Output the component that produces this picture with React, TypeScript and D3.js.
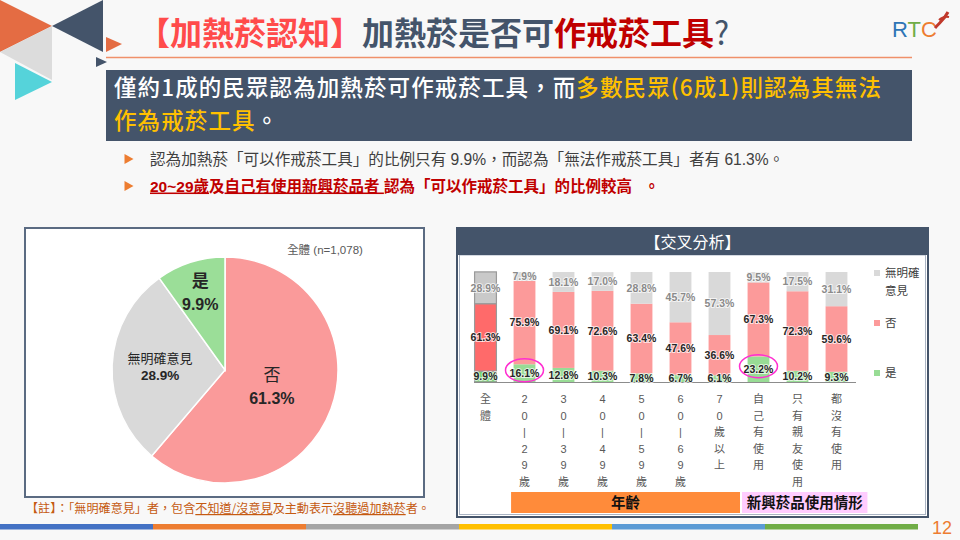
import React from "react";
import * as d3 from "d3";

const CJK = "'Noto Sans CJK TC','Noto Sans CJK SC',sans-serif";
const NUM = "'Liberation Sans','Noto Sans CJK TC',sans-serif";

// ---------- Pie data ----------
const pieLabels = ["否", "無明確意見", "是"];
const pieValues = [61.3, 28.9, 9.9];
const pieColors = ["#fa9a9a", "#d9d9d9", "#9bde98"];
const pieNote = "全體 (n=1,078)";

// ---------- Cross analysis data ----------
const categories = [
  "全體", "20-29歲", "30-39歲", "40-49歲", "50-59歲", "60-69歲",
  "70歲以上", "自己有使用", "只有親友使用", "都沒有使用",
];
const yesValues = [9.9, 16.1, 12.8, 10.3, 7.8, 6.7, 6.1, 23.2, 10.2, 9.3];
const noValues = [61.3, 75.9, 69.1, 72.6, 63.4, 47.6, 36.6, 67.3, 72.3, 59.6];
const unsureValues = [28.9, 7.9, 18.1, 17.0, 28.8, 45.7, 57.3, 9.5, 17.5, 31.1];
const seriesKeys = ["是", "否", "無明確意見"];
const seriesColors = ["#98dc95", "#fc9a9a", "#d9d9d9"];
const totalColors = ["#72d36f", "#ff6a6a", "#c9c9c9"];
const legendKeys = ["無明確意見", "否", "是"];
const legendLines = [["無明確", "意見"], ["否"], ["是"]];
const groupNames = ["年齡", "新興菸品使用情形"];
const groupFrom = [1, 7];
const groupTo = [6, 9];
const highlighted = ["20-29歲", "自己有使用"];

const bottomBarColors = ["#4472c4", "#ed7d31", "#a5a5a5", "#ffc000", "#5b9bd5", "#70ad47"];

export default function App() {
  // pie
  const cx = 225, cy = 370, r = 113;
  const pie = d3.pie<number>().sort(null).value((d) => d)(pieValues);
  const arc = d3.arc<d3.PieArcDatum<number>>().innerRadius(0).outerRadius(r);
  const labelR = [50, 65, 81];

  // bars
  const x = d3.scaleBand<string>().domain(categories).range([466, 856]).paddingInner(0.44).paddingOuter(0.22);
  const y = d3.scaleLinear().domain([0, 100]).range([382, 272]);
  const rows = categories.map((c, i) => ({ cat: c, 是: yesValues[i], 否: noValues[i], 無明確意見: unsureValues[i] }));
  const stacked = d3.stack<any>().keys(seriesKeys)(rows);
  const bw = x.bandwidth();

  const midBetween = (a: number, b: number) => ((x(categories[a]) as number) + bw + (x(categories[b]) as number)) / 2;

  const groupX0 = [
    (x(categories[groupFrom[0]]) as number) - 2.5,
    midBetween(groupTo[0], groupFrom[1]) + 3,
  ];
  const groupX1 = [
    midBetween(groupTo[0], groupFrom[1]) + 1,
    (x(categories[groupTo[1]]) as number) + bw + 20,
  ];
  const groupColors = ["#ff8b3a", "#ffccff"];

  return (
    <svg width={960} height={540} style={{ position: "absolute", left: 0, top: 0 }} fontFamily={CJK}>
      <rect width={960} height={540} fill="#f8f8f8" />

      {/* decoration */}
      <polygon points="0,0 52,26 0,52" fill="#e46c43" />
      <polygon points="0,52 52,26 52,80" fill="#dcdcdc" />
      <polygon points="52,26 103,0 103,52" fill="#44546a" />
      <polygon points="15,63 52,82 15,100" fill="#55d3da" />
      <polygon points="106,37 122,44 106,52" fill="#e46c43" />
      <polygon points="96,57 107,62 96,67" fill="#44546a" />

      {/* title */}
      <text x={138} y={45} fontSize={32} fontWeight={700}>
        <tspan fill="#ff4b4b">【加熱菸認知】</tspan>
        <tspan fill="#44546a">加熱菸是否可</tspan>
        <tspan fill="#c00000">作戒菸工具</tspan>
        <tspan fill="#44546a" fontWeight={400}>?</tspan>
      </text>
      <line x1={106} x2={912} y1={57.5} y2={57.5} stroke="#f0906a" strokeWidth={1.5} />

      {/* RTC logo */}
      <text x={892} y={37} fontSize={22} fontFamily={NUM}>
        <tspan fill="#2e75b6">R</tspan>
        <tspan fill="#70ad47">T</tspan>
        <tspan fill="#ed7d31">C</tspan>
      </text>
      <path d="M935 28 C 940 22, 944 20, 948 12" stroke="#c0392b" strokeWidth={3} fill="none" />
      <path d="M939 20 C 942 17, 945 16, 949 17" stroke="#c0392b" strokeWidth={2} fill="none" />

      {/* summary box */}
      <rect x={106} y={70} width={806} height={71} fill="#44546a" />
      <text fontSize={22.5} letterSpacing={1.1} fontWeight={500} fill="#ffffff">
        <tspan x={114} y={96}>僅約1成的民眾認為加熱菸可作戒菸工具，而</tspan>
        <tspan fill="#ffc000">多數民眾(6成1)則認為其無法</tspan>
      </text>
      <text fontSize={22.5} letterSpacing={1.1} fontWeight={500} fill="#ffffff">
        <tspan x={114} y={129} fill="#ffc000">作為戒菸工具</tspan>
        <tspan>。</tspan>
      </text>

      {/* bullets */}
      <polygon points="124.5,154 133.5,159 124.5,164" fill="#ed7d31" />
      <polygon points="124.5,181 133.5,186 124.5,191" fill="#ed7d31" />
      <text x={150} y={164.5} fontSize={15.6} fill="#404040" fontFamily={NUM}>
        認為加熱菸「可以作戒菸工具」的比例只有 9.9%，而認為「無法作戒菸工具」者有 61.3%。
      </text>
      <text x={150} y={191.5} fontSize={15.5} fill="#c00000" fontWeight={700} fontFamily={NUM}>
        <tspan textDecoration="underline">20~29歲</tspan>
        <tspan>及</tspan>
        <tspan textDecoration="underline">自己有使用新興菸品者 </tspan>
        <tspan>認為「可以作戒菸工具」的比例較高</tspan>
        <tspan dx={12}>。</tspan>
      </text>

      {/* pie panel */}
      <rect x={25} y={228} width={399} height={269} fill="#ffffff" stroke="#5b6b82" strokeWidth={2} />
      <text x={325} y={254} fontSize={11.5} fill="#595959" textAnchor="middle" fontFamily={NUM}>{pieNote}</text>
      <g transform={`translate(${cx},${cy})`}>
        {pie.map((d, i) => (
          <path key={i} d={arc(d) as string} fill={pieColors[i]} stroke="#ffffff" strokeWidth={1.5} />
        ))}
        {pie.map((d, i) => {
          const a = (d.startAngle + d.endAngle) / 2;
          const lx = Math.sin(a) * labelR[i];
          const ly = -Math.cos(a) * labelR[i];
          const big = i !== 1;
          return (
            <g key={i} fill="#262626" textAnchor="middle">
              <text x={lx} y={ly - (big ? 6 : 4)} fontSize={big ? 17 : 13} fontWeight={i === 2 ? 700 : 400}>{pieLabels[i]}</text>
              <text x={lx} y={ly + (big ? 17 : 13)} fontSize={big ? 16 : 13.5} fontWeight={700} fontFamily={NUM}>
                {pieValues[i].toFixed(1)}%
              </text>
            </g>
          );
        })}
      </g>
      <text x={26} y={513} fontSize={12.1} fill="#c55a11">
        <tspan>【註】：「無明確意見」者，包含</tspan>
        <tspan textDecoration="underline">不知道/沒意見</tspan>
        <tspan>及主動表示</tspan>
        <tspan textDecoration="underline">沒聽過加熱菸</tspan>
        <tspan>者。</tspan>
      </text>

      {/* cross panel */}
      <rect x={457} y={228} width={471} height={289} fill="#ffffff" stroke="#44546a" strokeWidth={2} />
      <rect x={459.5} y={255} width={466} height={259.5} fill="none" stroke="#aab4c3" strokeWidth={1} />
      <rect x={458} y={229} width={469} height={26} fill="#44546a" />
      <text x={692.5} y={248} fontSize={16} fill="#ffffff" textAnchor="middle">【交叉分析】</text>

      {stacked.map((s, si) => (
        <g key={si}>
          {s.map((d, i) => (
            <rect
              key={i}
              x={x(categories[i])}
              y={y(d[1])}
              width={bw}
              height={y(d[0]) - y(d[1])}
              fill={i === 0 ? totalColors[si] : seriesColors[si]}
              stroke={i === 0 ? "#9a9a9a" : "none"}
              strokeWidth={i === 0 ? 1.2 : 0}
            />
          ))}
        </g>
      ))}
      <line x1={474} x2={856} y1={y(0) + 0.5} y2={y(0) + 0.5} stroke="#8c8c8c" strokeWidth={1.2} />

      {stacked.map((s, si) => (
        <g key={si} fontFamily={NUM} fontSize={10.5} fontWeight={700} textAnchor="middle">
          {s.map((d, i) => (
            <text
              key={i}
              x={(x(categories[i]) as number) + bw / 2}
              y={(y(d[0]) + y(d[1])) / 2 + 3.8}
              fill={si === 2 ? "#8a8a8a" : "#262626"}
              stroke="#ffffff"
              strokeWidth={2}
              strokeOpacity={0.7}
              paintOrder="stroke"
            >
              {(d[1] - d[0]).toFixed(1)}%
            </text>
          ))}
        </g>
      ))}

      {highlighted.map((c) => {
        const i = categories.indexOf(c);
        const cyE = (y(0) + y(yesValues[i])) / 2 - 3;
        return (
          <ellipse key={c} cx={(x(c) as number) + bw / 2} cy={cyE} rx={19} ry={11.5} fill="none" stroke="#ff2fd0" strokeWidth={1.5} />
        );
      })}

      {/* legend */}
      {legendKeys.map((k, li) => {
        const si = seriesKeys.indexOf(k);
        const ly = [273, 323, 373][li];
        return (
          <g key={k}>
            <rect x={874} y={ly - 3} width={6} height={6} fill={seriesColors[si]} />
            {legendLines[li].map((t, ti) => (
              <text key={ti} x={885} y={ly + 4 + ti * 18} fontSize={11.5} fill="#404040">{t}</text>
            ))}
          </g>
        );
      })}

      {/* x labels */}
      {categories.map((c) => (
        <g key={c}>
          {Array.from(c.replace("-", "|")).map((ch, k) => (
            <text
              key={k}
              x={(x(c) as number) + bw / 2}
              y={403 + k * 16.5}
              fontSize={11}
              fill="#595959"
              textAnchor="middle"
              fontFamily={/[0-9|]/.test(ch) ? NUM : CJK}
            >
              {ch}
            </text>
          ))}
        </g>
      ))}

      {/* group bands */}
      {groupNames.map((g, gi) => (
        <g key={g}>
          <rect x={groupX0[gi]} y={492} width={groupX1[gi] - groupX0[gi]} height={21} fill={groupColors[gi]} />
          <text x={(groupX0[gi] + groupX1[gi]) / 2} y={508} fontSize={14.5} fontWeight={700} fill="#111111" textAnchor="middle">{g}</text>
        </g>
      ))}

      {/* bottom color bars */}
      {bottomBarColors.map((c, i) => (
        <rect key={i} x={i * 153} y={524} width={153} height={5.5} fill={c} />
      ))}
      <text x={942} y={534} fontSize={18} fill="#ed7d31" textAnchor="middle" fontFamily={NUM}>12</text>
    </svg>
  );
}
